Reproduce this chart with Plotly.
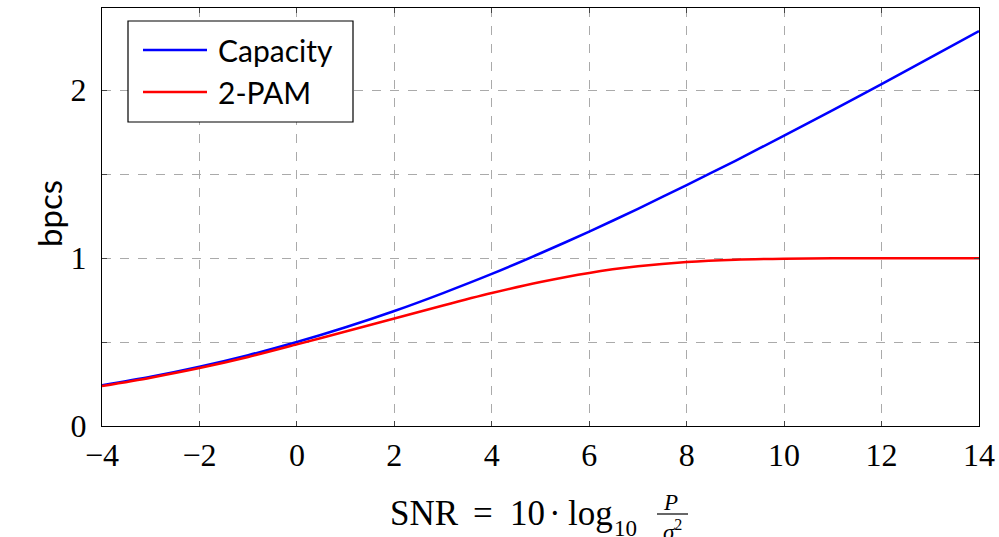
import plotly.graph_objects as go

snr_db = [-4, -3, -2, -1, 0, 1, 2, 3, 4, 5, 6, 7, 8, 9, 10, 11, 12, 13, 14]
capacity = [0.242, 0.293, 0.353, 0.422, 0.500, 0.588, 0.685, 0.792, 0.906, 1.029,
            1.158, 1.294, 1.435, 1.580, 1.730, 1.882, 2.037, 2.194, 2.353]
pam2 = [0.238, 0.288, 0.345, 0.411, 0.486, 0.563, 0.640, 0.718, 0.792, 0.858,
        0.912, 0.951, 0.977, 0.991, 0.997, 0.9993, 0.9999, 1.0, 1.0]

x_ticks = [-4, -2, 0, 2, 4, 6, 8, 10, 12, 14]
x_ticktext = ["\u22124", "\u22122", "0", "2", "4", "6", "8", "10", "12", "14"]
y_ticks = [0, 0.5, 1, 1.5, 2]
y_ticktext = ["0", "", "1", "", "2"]
series_names = ["Capacity", "2-PAM"]
series_colors = ["#0000ff", "#ff0000"]

W, H = 999, 537
L, R, T, B = 102, 20, 8, 111
pw, ph = W - L - R, H - T - B

def px(xp):
    return (xp - L) / pw

def py(yp):
    return (H - B - yp) / ph

fig = go.Figure()
for name, vals, col in zip(series_names, [capacity, pam2], series_colors):
    fig.add_trace(go.Scatter(x=snr_db, y=vals, mode="lines", name=name,
                             line=dict(color=col, width=2.5, shape="spline", smoothing=0.8),
                             showlegend=False))

serif = "Liberation Serif, DejaVu Serif, serif"
sans = "Lato, Open Sans, sans-serif"

axis_common = dict(showgrid=True, gridcolor="#aaaaaa", griddash="dash", gridwidth=1,
                   showline=True, linecolor="black", linewidth=1.3, mirror="ticks",
                   ticks="inside", ticklen=5, tickcolor="#444444",
                   tickfont=dict(family=serif, size=32, color="black"),
                   zeroline=False, automargin=False)

fig.update_layout(
    width=W, height=H,
    margin=dict(l=L, r=R, t=T, b=B, autoexpand=False),
    paper_bgcolor="white", plot_bgcolor="white",
    xaxis=dict(range=[-4, 14], tickvals=x_ticks, ticktext=x_ticktext, **axis_common),
    yaxis=dict(range=[0, 2.49], tickvals=y_ticks, ticktext=y_ticktext,
               ticklabelstandoff=8, **axis_common),
)

# y-axis title
fig.add_annotation(text="bpcs", xref="paper", yref="paper", x=px(27), y=py(214),
                   textangle=-90, showarrow=False,
                   font=dict(family=sans, size=33, color="black"))

# x-axis title pieces (math-like layout)
def title_piece(text, xpix, ypix, size, anchor="left"):
    fig.add_annotation(text=text, xref="paper", yref="paper",
                       x=px(xpix), y=py(ypix), xanchor=anchor, yanchor="middle",
                       showarrow=False, font=dict(family=serif, size=size, color="black"))

title_piece("SNR", 388, 513, 35)
title_piece("=", 483, 513, 35, "center")
title_piece("10", 508, 513, 35)
title_piece("\u00b7", 555, 513, 35, "center")
title_piece("log", 566, 513, 35)
title_piece("10", 612, 528, 23)
title_piece("<i>P</i>", 670, 502, 23, "center")
title_piece("<i>\u03c3</i><sup>2</sup>", 672, 530, 23, "center")
fig.add_shape(type="line", xref="paper", yref="paper",
              x0=px(657), x1=px(688), y0=py(514), y1=py(514),
              line=dict(color="black", width=1.2))

# manual legend
fig.add_shape(type="rect", xref="paper", yref="paper",
              x0=px(128), x1=px(353), y0=py(122), y1=py(21),
              line=dict(color="black", width=1.2), fillcolor="white", layer="above")
for i, (name, col) in enumerate(zip(series_names, series_colors)):
    yc = 50 + 42 * i
    fig.add_shape(type="line", xref="paper", yref="paper",
                  x0=px(143), x1=px(207), y0=py(yc), y1=py(yc),
                  line=dict(color=col, width=2.5), layer="above")
    fig.add_annotation(text=name, xref="paper", yref="paper",
                       x=px(216), y=py(yc), xanchor="left", yanchor="middle",
                       showarrow=False, font=dict(family=sans, size=30, color="black"))

fig.write_html("out.html", config={"displayModeBar": False},
               post_script="document.body.style.margin='0';document.body.style.overflow='hidden';")
